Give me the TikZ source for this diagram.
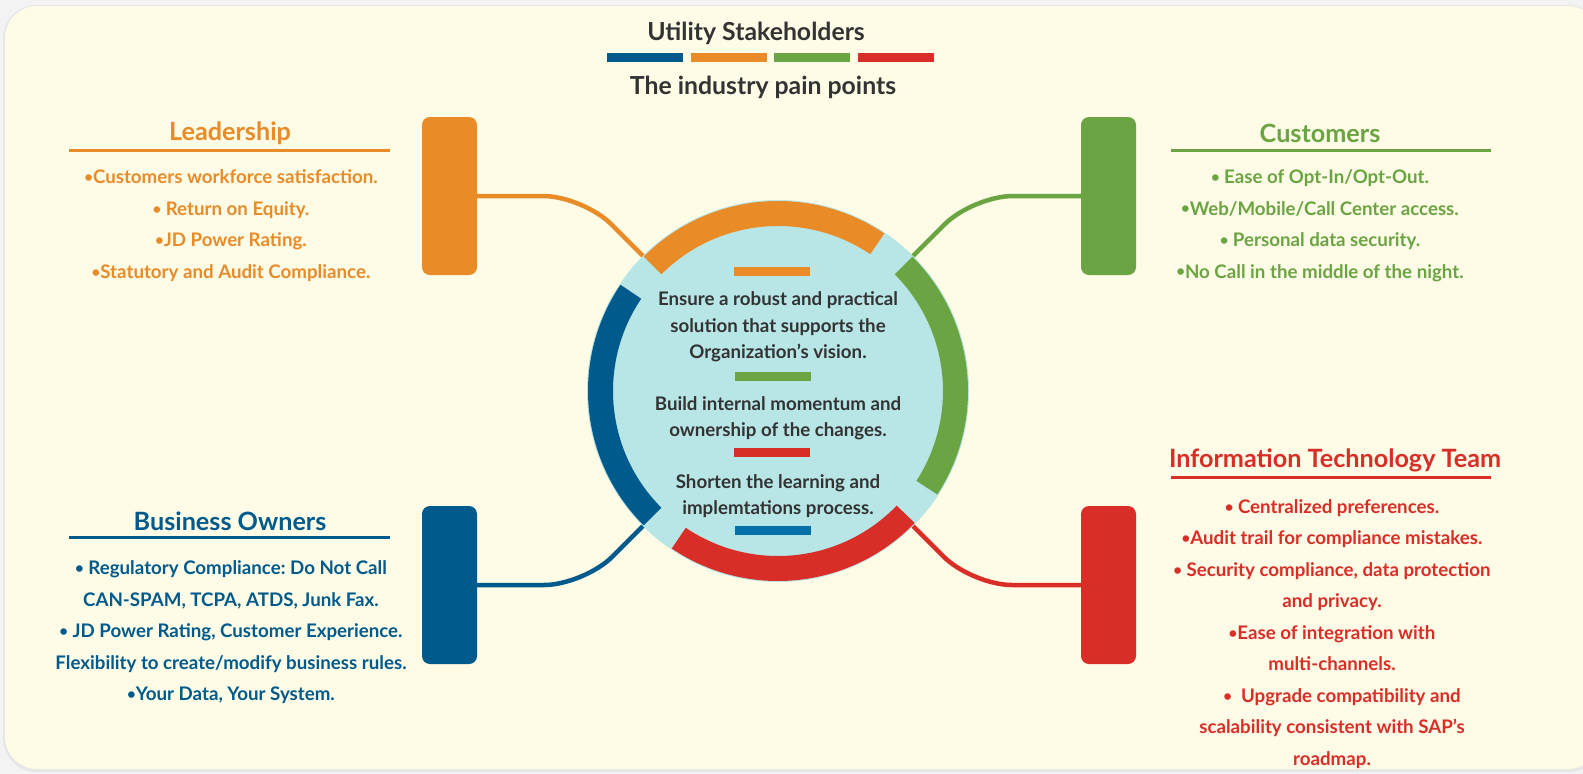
\documentclass[tikz,border=0pt]{standalone}
\usepackage{fontspec}
\usepackage{graphicx}
\setmainfont{Lato}
\frenchspacing
\usetikzlibrary{calc}
\newcommand\bul{\raisebox{0.06em}{\scalebox{0.8}{•}}}
\definecolor{bgc}{HTML}{FEFBE6}
\definecolor{outc}{HTML}{F3F3F3}
\definecolor{shc}{HTML}{E6E6E6}
\definecolor{orng}{HTML}{E98B26}
\definecolor{grn}{HTML}{6BA442}
\definecolor{blu}{HTML}{005A8C}
\definecolor{redc}{HTML}{D92D28}
\definecolor{cyanc}{HTML}{B8E5E5}
\definecolor{txt}{HTML}{333333}
\definecolor{cblu}{HTML}{0070A8}
\begin{document}
\begin{tikzpicture}[x=1pt,y=-1pt,
  panel/.style={rounded corners=8pt, fill=#1, minimum width=55pt, minimum height=158pt, inner sep=0pt},
  conn/.style={draw=#1, line width=4.5pt, rounded corners=40pt},
  title/.style={font=\fontsize{24.8}{30}\selectfont\bfseries, text=txt, inner sep=0pt},
  head/.style={font=\fontsize{25.2}{30}\selectfont\bfseries, text=#1, inner sep=0pt},
  items/.style={font=\fontsize{18.7}{31.5}\selectfont\bfseries, text=#1, align=center, inner sep=0pt},
  ctext/.style={font=\fontsize{18.7}{26.5}\selectfont\bfseries, text=txt, align=center, inner sep=0pt},
  uline/.style={draw=#1, line width=3pt}]
\useasboundingbox (0,0) rectangle (1583,774);
\fill[outc] (0,0) rectangle (1583,774);
\fill[shc, rounded corners=34pt] (3,5) rectangle (1602,772);
\fill[bgc, rounded corners=32pt] (5,6) rectangle (1600,769);

% header
\node[title] (ttl) at (756,33) {Utility Stakeholders};
\fill[blu] (607,53) rectangle (683,62);
\fill[orng] (691,53) rectangle (767,62);
\fill[grn] (774,53) rectangle (850,62);
\fill[redc] (858,53) rectangle (934,62);
\node[title] (sub) at (763,87) {The industry pain points};

% panels
\node[panel=orng] (pL) at (449.5,196) {};
\node[panel=blu] (pB) at (449.5,585) {};
\node[panel=grn] (pG) at (1108.5,196) {};
\node[panel=redc] (pR) at (1108.5,585) {};

\coordinate (c) at (778,391);
\coordinate (eL) at (651,264);
\coordinate (eB) at (651,518);
\coordinate (eG) at (905,264);
\coordinate (eR) at (905,518);

\draw[conn=orng] (pL.east) -- (583,196) -- (eL);
\draw[conn=blu] (pB.east) -- (584,585) -- (eB);
\draw[conn=grn] (pG.west) -- (973,196) -- (eG);
\draw[conn=redc] (pR.west) -- (972,585) -- (eR);

% circle
\fill[cyanc] (c) circle[radius=191];
\fill[orng] ($(c)+(-56:190)$) arc[start angle=-56, end angle=-135, radius=190] -- ($(c)+(-135:165)$) arc[start angle=-135, end angle=-56, radius=165] -- cycle;
\fill[grn] ($(c)+(33:190)$) arc[start angle=33, end angle=-45, radius=190] -- ($(c)+(-45:165)$) arc[start angle=-45, end angle=33, radius=165] -- cycle;
\fill[redc] ($(c)+(124:190)$) arc[start angle=124, end angle=44, radius=190] -- ($(c)+(44:165)$) arc[start angle=44, end angle=124, radius=165] -- cycle;
\fill[blu] ($(c)+(-146:190)$) arc[start angle=-146, end angle=-225, radius=190] -- ($(c)+(-225:165)$) arc[start angle=-225, end angle=-146, radius=165] -- cycle;

\fill[orng] (734,267) rectangle (810,276);
\fill[grn] (735,372) rectangle (811,381);
\fill[redc] (734,448) rectangle (810,457);
\fill[cblu] (735,526) rectangle (811,535);

\node[ctext] (c1) at (778,327) {Ensure a robust and practical\\solution that supports the\\Organization’s vision.};
\node[ctext] (c2) at (778,418) {Build internal momentum and\\ownership of the changes.};
\node[ctext] (c3) at (778,496) {Shorten the learning and\\implemtations process.};

% Leadership
\node[head=orng] (hL) at (230,133) {Leadership};
\draw[uline=orng] (69,150) -- (390,150);
\node[items=orng] (iL) at (231,225.5) {\bul Customers workforce satisfaction.\\\bul\ Return on Equity.\\\bul JD Power Rating.\\\bul Statutory and Audit Compliance.};

% Customers
\node[head=grn] (hG) at (1320,133) {Customers};
\draw[uline=grn] (1171,150) -- (1491,150);
\node[items=grn] (iG) at (1320,225.5) {\bul\ Ease of Opt-In/Opt-Out.\\\bul Web/Mobile/Call Center access.\\\bul\ Personal data security.\\\bul No Call in the middle of the night.};

% Business Owners
\node[head=blu] (hB) at (230,521) {Business Owners};
\draw[uline=blu] (69,537) -- (390,537);
\node[items=blu] (iB) at (231,632.5) {\bul\ Regulatory Compliance: Do Not Call\\CAN-SPAM, TCPA, ATDS, Junk Fax.\\\bul\ JD Power Rating, Customer Experience.\\Flexibility to create/modify business rules.\\\bul Your Data, Your System.};

% IT
\node[head=redc] (hR) at (1335,460) {Information Technology Team};
\draw[uline=redc] (1171,477) -- (1491,477);
\node[items=redc] (iR) at (1332,634) {\bul\ Centralized preferences.\\\bul Audit trail for compliance mistakes.\\\bul\ Security compliance, data protection\\and privacy.\\\bul Ease of integration with\\multi-channels.\\\hspace*{20pt}\bul\ \ Upgrade compatibility and\\scalability consistent with SAP’s\\roadmap.};
\end{tikzpicture}
\end{document}
